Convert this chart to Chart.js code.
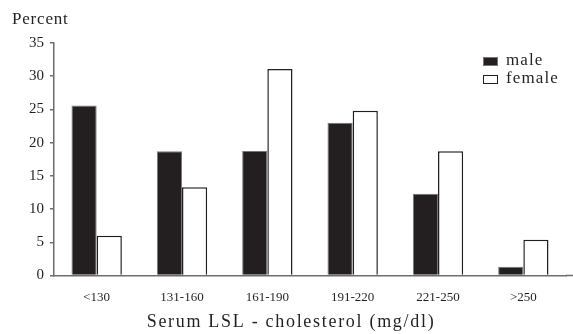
<!DOCTYPE html>
<html><head><meta charset="utf-8">
<script src="https://cdn.jsdelivr.net/npm/chart.js@4/dist/chart.umd.min.js"></script>
<style>html,body{margin:0;padding:0;background:#fff}#wrap{width:573px;height:334px}</style>
</head><body><div id="wrap"><canvas id="c" width="573" height="334"></canvas></div>
<script>
const categories = ['<130','131-160','161-190','191-220','221-250','>250'];
const maleValues = [25.6, 18.7, 18.75, 23.0, 12.3, 1.3];
const femaleValues = [6.0, 13.3, 31.1, 24.8, 18.7, 5.4];
const yTicks = [0,5,10,15,20,25,30,35];
const yTitle = 'Percent';
const xTitle = 'Serum LSL - cholesterol (mg/dl)';
const FONT = '"Liberation Serif", "Times New Roman", serif';
const INK = '#231f20';
const AXIS = '#6d6d6d';

const extras = {
  id: 'extras',
  afterDraw(chart) {
    const ctx = chart.ctx;
    const area = chart.chartArea;
    ctx.save();
    ctx.fillStyle = INK;
    ctx.textBaseline = 'alphabetic';
    ctx.font = '17px ' + FONT;
    ctx.letterSpacing = '0.8px';
    ctx.textAlign = 'left';
    ctx.fillText(yTitle, 12, 24);
    ctx.font = '18px ' + FONT;
    ctx.letterSpacing = '1.7px';
    ctx.textAlign = 'center';
    ctx.fillText(xTitle, 291, 327);
    // extend x axis line to right edge
    ctx.strokeStyle = AXIS; ctx.lineWidth = 1.5;
    ctx.beginPath(); ctx.moveTo(area.right, area.bottom); ctx.lineTo(573, area.bottom); ctx.stroke();
    // legend
    const items = chart.data.datasets;
    ctx.font = '17px ' + FONT;
    ctx.letterSpacing = '1.1px';
    ctx.textAlign = 'left';
    items.forEach((ds, i) => {
      const base = 65 + i * 18;
      ctx.fillStyle = ds.backgroundColor;
      ctx.fillRect(483, base - 8, 15, 9);
      ctx.strokeStyle = ds.borderColor; ctx.lineWidth = 1;
      ctx.strokeRect(483.5, base - 7.5, 14, 8);
      ctx.fillStyle = INK;
      ctx.fillText(ds.label, 506, base);
    });
    ctx.restore();
  }
};

new Chart(document.getElementById('c'), {
  type: 'bar',
  data: {
    labels: categories,
    datasets: [
      { label: 'male', data: maleValues, backgroundColor: INK, borderColor: '#777', borderWidth: 1, borderSkipped: 'bottom' },
      { label: 'female', data: femaleValues, backgroundColor: '#ffffff', borderColor: INK, borderWidth: 1.5, borderSkipped: 'bottom' }
    ]
  },
  options: {
    responsive: false,
    animation: false,
    devicePixelRatio: 1,
    layout: { padding: { top: 43, right: 7, left: 0, bottom: 0 } },
    plugins: { legend: { display: false }, tooltip: { enabled: false } },
    datasets: { bar: { categoryPercentage: 0.59, barPercentage: 1 } },
    scales: {
      x: {
        grid: { display: false, drawTicks: false },
        border: { color: AXIS, width: 1.5 },
        ticks: { color: INK, font: { family: FONT, size: 13 }, padding: 14, maxRotation: 0 },
        afterFit(s) { s.height = 58.5; }
      },
      y: {
        min: 0, max: 35,
        afterBuildTicks(s) { s.ticks = yTicks.map(v => ({ value: v })); },
        grid: { display: true, drawOnChartArea: false, drawTicks: true, tickLength: 4, color: AXIS, lineWidth: 1.5 },
        border: { color: AXIS, width: 1.5 },
        ticks: { color: INK, font: { family: FONT, size: 15 }, padding: 6 },
        afterFit(s) { s.width = 54; }
      }
    }
  },
  plugins: [extras]
});
</script></body></html>
